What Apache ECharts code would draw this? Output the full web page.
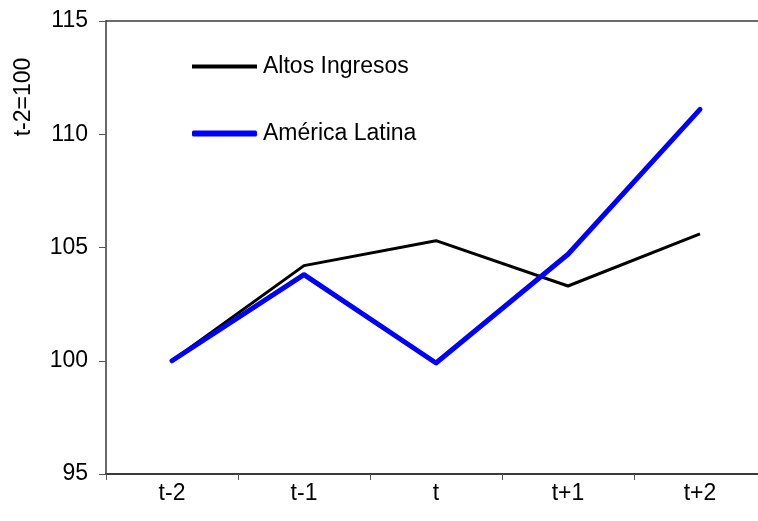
<!DOCTYPE html>
<html><head><meta charset="utf-8">
<script src="https://cdn.jsdelivr.net/npm/echarts@6/dist/echarts.min.js"></script>
<style>html,body{margin:0;padding:0;background:#fff}#c{width:758px;height:521px}</style>
</head><body><div id="c"></div>
<script>
const categories = ['t-2', 't-1', 't', 't+1', 't+2'];
const altosIngresos = [100, 104.2, 105.3, 103.3, 105.6];
const americaLatina = [100, 103.8, 99.9, 104.7, 111.1];
const yTicks = [95, 100, 105, 110, 115];
const seriesNames = ['Altos Ingresos', 'América Latina'];

const font = 'Liberation Sans, Arial, sans-serif';
const chart = echarts.init(document.getElementById('c'));
chart.setOption({
  animation: false,
  backgroundColor: '#fff',
  grid: { left: 106, top: 21, width: 660, height: 453, containLabel: false, outerBoundsMode: 'none' },
  xAxis: [{
    type: 'category', data: categories, boundaryGap: true,
    axisLine: { lineStyle: { color: '#3a3a3a', width: 2 } },
    axisTick: { show: true, length: 6, inside: false, lineStyle: { color: '#555', width: 1 } },
    axisLabel: { color: '#000', fontSize: 23, fontFamily: font, margin: 8 },
    splitLine: { show: false }
  }, {
    type: 'category', data: categories, position: 'top',
    axisLine: { show: true, lineStyle: { color: '#3a3a3a', width: 1.5 } },
    axisTick: { show: false }, axisLabel: { show: false }, splitLine: { show: false }
  }],
  yAxis: {
    type: 'value', min: yTicks[0], max: yTicks[yTicks.length - 1], interval: 5,
    axisLine: { show: true, lineStyle: { color: '#3a3a3a', width: 1.5 } },
    axisTick: { show: true, length: 7, lineStyle: { color: '#555', width: 1 } },
    axisLabel: { color: '#000', fontSize: 23, fontFamily: font, margin: 18 },
    splitLine: { show: false }
  },
  legend: [{
    data: [{ name: seriesNames[0], icon: 'rect' }],
    left: 192, top: 55, padding: 0, itemWidth: 65, itemHeight: 4, itemGap: 5,
    textStyle: { color: '#000', fontSize: 23, fontFamily: font, padding: [0, 0, 0, 1] }
  }, {
    data: [{ name: seriesNames[1], icon: 'roundRect' }],
    left: 192, top: 122, padding: 0, itemWidth: 65, itemHeight: 6, itemGap: 5,
    textStyle: { color: '#000', fontSize: 23, fontFamily: font, padding: [0, 0, 0, 1] }
  }],
  graphic: [{
    type: 'text', x: 24, y: 97, rotation: Math.PI / 2,
    style: { text: 't-2=100', fill: '#000', fontSize: 23, fontFamily: font, align: 'center', verticalAlign: 'middle' }
  }],
  series: [{
    name: seriesNames[0], type: 'line', data: altosIngresos,
    symbol: 'none', lineStyle: { color: '#000', width: 3 }, itemStyle: { color: '#000' }, z: 2
  }, {
    name: seriesNames[1], type: 'line', data: americaLatina,
    symbol: 'none', lineStyle: { color: '#0000ff', width: 5, cap: 'round', join: 'round' }, itemStyle: { color: '#0000ff' }, z: 3
  }]
});
</script></body></html>
